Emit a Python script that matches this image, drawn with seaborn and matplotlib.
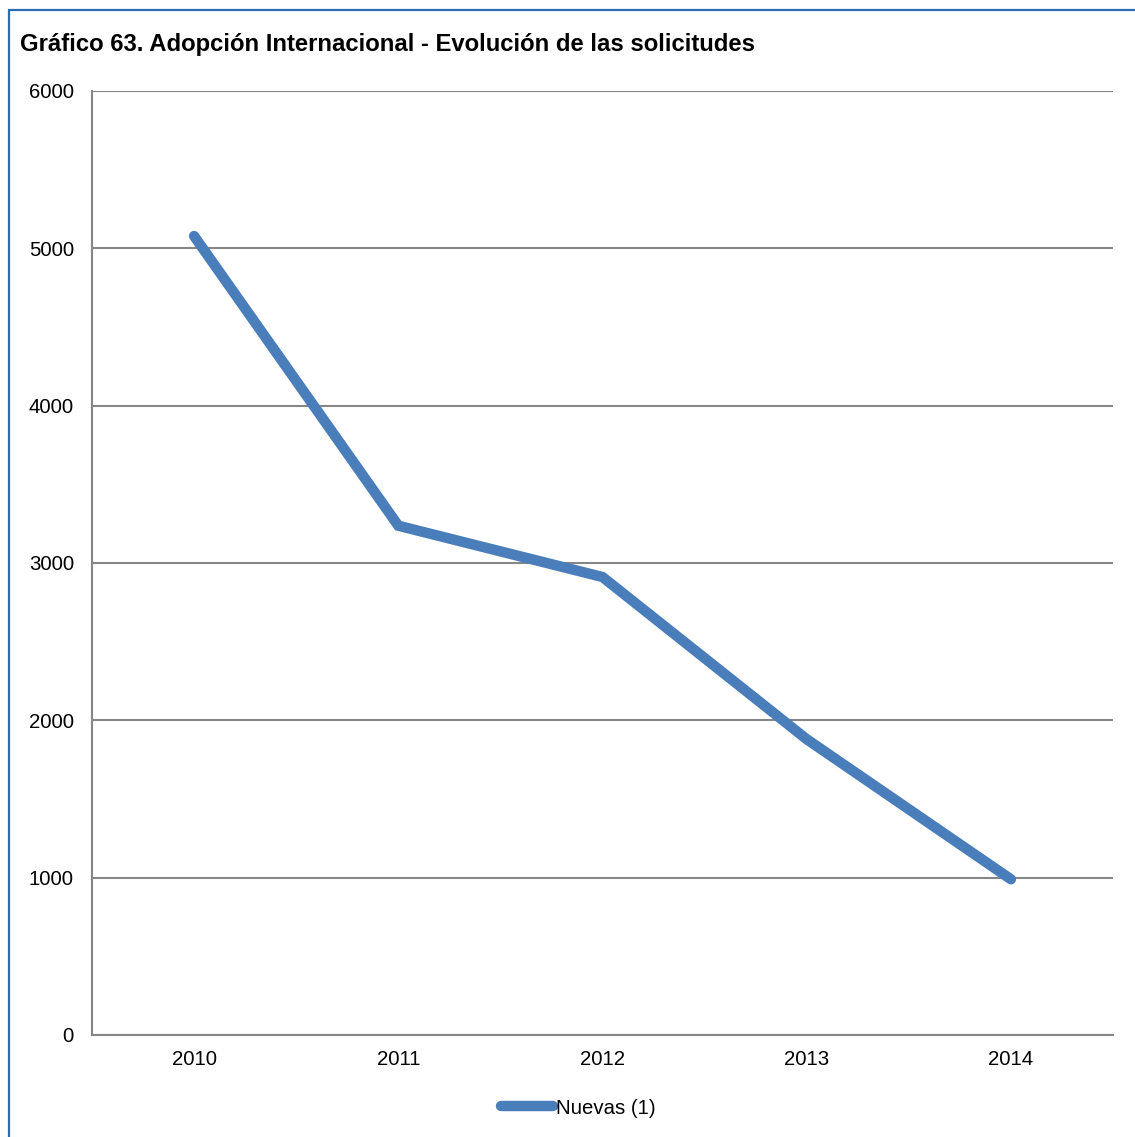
import matplotlib
matplotlib.use("Agg")
import matplotlib.pyplot as plt
from matplotlib.patches import Rectangle
import pandas as pd
import seaborn as sns

# Solicitudes nuevas de adopción internacional por año
years = ["2010", "2011", "2012", "2013", "2014"]
nuevas = [5078, 3237, 2911, 1880, 990]
y_ticks = [0, 1000, 2000, 3000, 4000, 5000, 6000]

series_name = "Nuevas (1)"
title = "Gráfico 63. Adopción Internacional - Evolución de las solicitudes"

line_color = "#4A7EBB"
grid_color = "#868686"
frame_color = "#2A6EAF"

sns.set_style("white")
plt.rcParams["font.family"] = ["Liberation Sans", "DejaVu Sans"]
plt.rcParams["text.color"] = "black"

df = pd.DataFrame({"Año": years, "Solicitudes": nuevas, "Serie": series_name})

fig = plt.figure(figsize=(11.35, 11.37), dpi=100)
ax = fig.add_axes([92 / 1135, 1 - 1035 / 1137, (1113 - 92) / 1135, (1035 - 91) / 1137])

sns.lineplot(data=df, x="Año", y="Solicitudes", hue="Serie", palette=[line_color],
             linewidth=7.5, ax=ax, legend=True, sort=False)
for ln in ax.get_lines():
    ln.set_solid_capstyle("round")
    ln.set_solid_joinstyle("miter")

ax.set_xlim(-0.5, 4.5)
ax.set_ylim(0, 6000)
ax.set_yticks(y_ticks)
ax.set_yticklabels([str(v) for v in y_ticks])
ax.set_xlabel("")
ax.set_ylabel("")
ax.yaxis.grid(True, color=grid_color, linewidth=1.5)
ax.set_axisbelow(True)
ax.tick_params(axis="both", length=0, labelsize=14.7, colors="black")
ax.tick_params(axis="y", pad=13)
ax.tick_params(axis="x", pad=11)
for side in ("top", "right"):
    ax.spines[side].set_visible(False)
for side in ("left", "bottom"):
    ax.spines[side].set_color(grid_color)
    ax.spines[side].set_linewidth(1.5)

# Legend below the plot area
handles, labels = ax.get_legend_handles_labels()
ax.get_legend().remove()
leg = fig.legend(handles, labels, loc="center", bbox_to_anchor=(578 / 1135, 1 - 1108 / 1137),
                 frameon=False, fontsize=14.7, handlelength=2.55, handletextpad=0.15,
                 labelcolor="black")
for h in leg.get_lines():
    h.set_linewidth(7.5)
    h.set_solid_capstyle("round")

fig.text(20 / 1135, 1 - 45 / 1137, title, fontsize=17.2, fontweight="bold",
         ha="left", va="center", color="black")

# Chart frame
fig.patches.append(Rectangle((9 / 1135, -0.1), 1.2, 1 - 10 / 1137 + 0.1,
                             transform=fig.transFigure, fill=False,
                             edgecolor=frame_color, linewidth=1.6))

fig.savefig("out.png", dpi=100, facecolor="white")
